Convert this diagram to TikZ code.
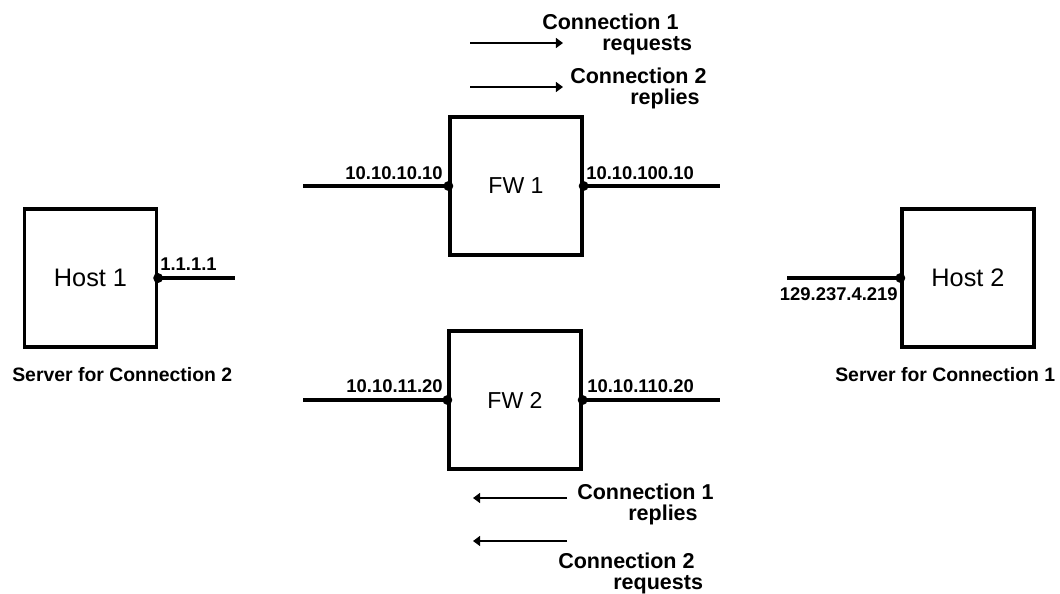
\documentclass[tikz,border=0pt]{standalone}
\usepackage{fontspec}
\setmainfont{Liberation Sans}
\usetikzlibrary{arrows.meta,positioning}

\tikzset{
  unitbox/.style={draw, line width=2.3pt, minimum width=3.3cm, minimum height=3.45cm,
    inner sep=0pt, font=\fontsize{16.4pt}{19pt}\selectfont},
  hostbox/.style={unitbox, font=\fontsize{18pt}{21pt}\selectfont},
  wire/.style={line width=2.3pt},
  flow/.style={line width=1.2pt, -{Triangle[length=5pt,width=7pt]}},
  iplabel/.style={font=\fontsize{13.1pt}{15pt}\selectfont\bfseries, inner sep=0pt},
  flowtext/.style={font=\fontsize{15.3pt}{14.6pt}\selectfont\bfseries, align=left,
    inner sep=0pt, anchor=north west},
  srvlabel/.style={font=\fontsize{13.8pt}{16pt}\selectfont\bfseries, inner sep=0pt,
    anchor=base west}
}

\begin{document}
\begin{tikzpicture}[x=0.025cm, y=-0.025cm, line cap=butt, line join=miter]
  \useasboundingbox (0,0) rectangle (1060,593);

  % boxes
  \node[hostbox] (host1) at (90.5,278) {Host 1};
  \node[hostbox] (host2) at (968,278) {Host 2};
  \node[unitbox] (fw1) at (516,186) {FW 1};
  \node[unitbox] (fw2) at (515,400) {FW 2};

  % free ends of the wires
  \coordinate (host1end) at (235,278);
  \coordinate (host2end) at (787,278);
  \coordinate (fw1in) at (303,186);
  \coordinate (fw1out) at (720,186);
  \coordinate (fw2in) at (303,400);
  \coordinate (fw2out) at (720,400);

  \draw[wire] (host1.east) -- (host1end);
  \draw[wire] (host2end) -- (host2.west);
  \draw[wire] (fw1in) -- (fw1.west);
  \draw[wire] (fw1.east) -- (fw1out);
  \draw[wire] (fw2in) -- (fw2.west);
  \draw[wire] (fw2.east) -- (fw2out);

  \foreach \p in {host1.east, host2.west, fw1.west, fw1.east, fw2.west, fw2.east}
    \fill (\p) circle (3.5pt);

  % addresses
  \node[iplabel, anchor=base west] (ip1) at (160,270) {1.1.1.1};
  \node[iplabel, anchor=base east] (ip2) at (898,300) {129.237.4.219};
  \node[iplabel, anchor=base east] (ip3) at (443,179) {10.10.10.10};
  \node[iplabel, anchor=base west] (ip4) at (586,179) {10.10.100.10};
  \node[iplabel, anchor=base east] (ip5) at (443,392) {10.10.11.20};
  \node[iplabel, anchor=base west] (ip6) at (587,392) {10.10.110.20};

  \node[srvlabel] (srv2) at (12,381) {Server for Connection 2};
  \node[srvlabel] (srv1) at (835,381) {Server for Connection 1};

  % traffic directions
  \coordinate (f1a) at (470,43);  \coordinate (f1b) at (563,43);
  \coordinate (f2a) at (470,87);  \coordinate (f2b) at (563,87);
  \coordinate (f3a) at (567,498); \coordinate (f3b) at (473,498);
  \coordinate (f4a) at (567,541); \coordinate (f4b) at (473,541);
  \draw[flow] (f1a) -- (f1b);
  \draw[flow] (f2a) -- (f2b);
  \draw[flow] (f3a) -- (f3b);
  \draw[flow] (f4a) -- (f4b);

  \node[flowtext] (t1) at (542,14) {Connection 1\\\hspace*{1.5cm}requests};
  \node[flowtext] (t2) at (570,68) {Connection 2\\\hspace*{1.5cm}replies};
  \node[flowtext] (t3) at (577,484) {Connection 1\\\hspace*{1.275cm}replies};
  \node[flowtext] (t4) at (558,553) {Connection 2\\\hspace*{1.375cm}requests};
\end{tikzpicture}
\end{document}
